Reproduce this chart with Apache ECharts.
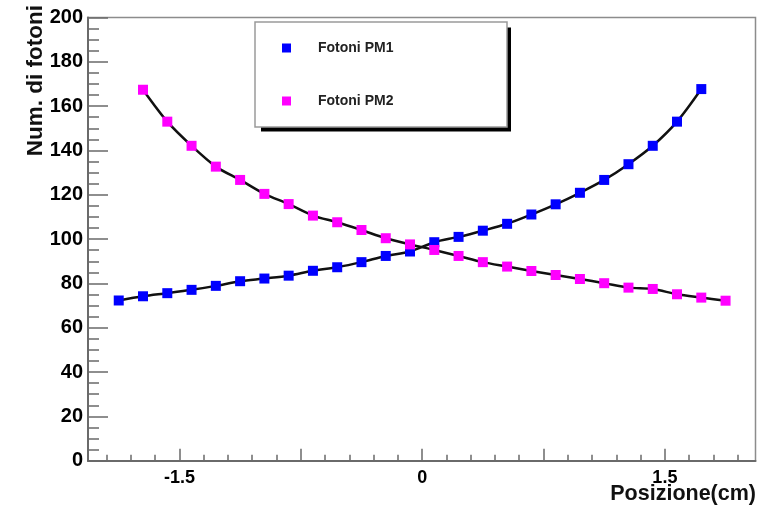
<!DOCTYPE html>
<html>
<head>
<meta charset="utf-8">
<script src="https://cdn.jsdelivr.net/npm/echarts@6/dist/echarts.min.js"></script>
<style>
  html, body { margin: 0; padding: 0; background: #fff; }
  #chart { width: 759px; height: 509px; }
</style>
</head>
<body>
<div id="chart"></div>
<script>
// Positions (cm) and photon counts for the two photomultipliers
const posPM1 = [-1.875, -1.725, -1.575, -1.425, -1.275, -1.125, -0.975, -0.825, -0.675, -0.525,
                -0.375, -0.225, -0.075, 0.075, 0.225, 0.375, 0.525, 0.675, 0.825, 0.975,
                1.125, 1.275, 1.425, 1.575, 1.725];
const fotoniPM1 = [72.3, 74.2, 75.6, 77.1, 78.9, 81.0, 82.2, 83.5, 85.7, 87.3,
                   89.6, 92.4, 94.4, 98.6, 101.0, 103.8, 106.9, 111.1, 115.7, 120.9,
                   126.7, 133.8, 142.1, 153.0, 167.7];

const posPM2 = [-1.725, -1.575, -1.425, -1.275, -1.125, -0.975, -0.825, -0.675, -0.525, -0.375,
                -0.225, -0.075, 0.075, 0.225, 0.375, 0.525, 0.675, 0.825, 0.975, 1.125,
                1.275, 1.425, 1.575, 1.725, 1.875];
const fotoniPM2 = [167.4, 153.0, 142.1, 132.7, 126.7, 120.4, 115.8, 110.6, 107.6, 104.1,
                   100.4, 97.6, 95.1, 92.4, 89.6, 87.6, 85.6, 83.8, 82.0, 80.1,
                   78.1, 77.5, 75.1, 73.6, 72.2];

const seriesNames = ['Fotoni PM1', 'Fotoni PM2'];
const xMajorTicks = [-1.5, -0.75, 0, 0.75, 1.5];
const xTickLabels = [-1.5, 0, 1.5];
const xMinorTicks = [-1.95, -1.8, -1.65, -1.35, -1.2, -1.05, -0.9, -0.6, -0.45, -0.3, -0.15,
                     0.15, 0.3, 0.45, 0.6, 0.9, 1.05, 1.2, 1.35, 1.65, 1.8, 1.95];

const pairs = (xs, ys) => xs.map((x, i) => [x, ys[i]]);
const dataPM1 = pairs(posPM1, fotoniPM1);
const dataPM2 = pairs(posPM2, fotoniPM2);

const FONT = '"Liberation Sans", Arial, Helvetica, sans-serif';
const axisGray = '#6a6a6a';
const xMin = -2.065, xMax = 2.06;

const chart = echarts.init(document.getElementById('chart'), null, { renderer: 'canvas' });

const baseX = {
  type: 'value', min: xMin, max: xMax, position: 'bottom',
  splitLine: { show: false }
};

chart.setOption({
  animation: false,
  backgroundColor: '#fff',
  grid: {
    left: 88, top: 17.5, right: 3.5, bottom: 48.3,
    show: true, borderColor: '#8c8c8c', borderWidth: 1.5, backgroundColor: 'transparent'
  },
  xAxis: [
    Object.assign({}, baseX, {
      axisLine: { show: true, onZero: false, lineStyle: { color: axisGray, width: 2 } },
      axisTick: { show: true, inside: true, length: 12, customValues: xMajorTicks,
                  lineStyle: { color: axisGray, width: 1.5 } },
      axisLabel: { show: true, customValues: xTickLabels, margin: 8,
                   color: '#000', fontFamily: FONT, fontWeight: 'bold', fontSize: 18,
                   formatter: v => String(v) }
    }),
    Object.assign({}, baseX, {
      axisLine: { show: false, onZero: false },
      axisTick: { show: true, inside: true, length: 6, customValues: xMinorTicks,
                  lineStyle: { color: axisGray, width: 1.5 } },
      axisLabel: { show: false }
    })
  ],
  yAxis: {
    type: 'value', min: 0, max: 200, interval: 20,
    axisLine: { show: true, onZero: false, lineStyle: { color: axisGray, width: 2 } },
    axisTick: { show: true, inside: true, length: 20, lineStyle: { color: axisGray, width: 1.5 } },
    minorTick: { show: true, splitNumber: 4, length: 11, lineStyle: { color: axisGray, width: 1.5 } },
    splitLine: { show: false },
    axisLabel: { color: '#000', fontFamily: FONT, fontWeight: 'bold', fontSize: 20, margin: 5 }
  },
  legend: {
    data: seriesNames,
    orient: 'vertical',
    left: 282, top: 41,
    padding: 0,
    itemWidth: 9, itemHeight: 9,
    itemGap: 39,
    icon: 'rect',
    selectedMode: false,
    textStyle: { color: '#222', fontFamily: FONT, fontWeight: 'bold', fontSize: 14,
                 lineHeight: 14, padding: [0, 0, 0, 22] }
  },
  graphic: [
    { type: 'rect', z: 0, shape: { x: 261, y: 27.5, width: 250, height: 104 },
      style: { fill: '#000' } },
    { type: 'rect', z: 1, shape: { x: 255, y: 22, width: 252, height: 105 },
      style: { fill: '#fff', stroke: '#9a9a9a', lineWidth: 1.5 } },
    { type: 'text', x: 36, y: 5, rotation: Math.PI / 2,
      style: { text: 'Num. di fotoni', fill: '#111', font: 'bold 22.5px ' + FONT,
               textAlign: 'right', textVerticalAlign: 'middle' } },
    { type: 'text', x: 756, y: 483,
      style: { text: 'Posizione(cm)', fill: '#111', font: 'bold 21.5px ' + FONT,
               textAlign: 'right', textVerticalAlign: 'top' } }
  ],
  series: [
    { type: 'line', data: dataPM1, smooth: 0.3, showSymbol: false, silent: true,
      lineStyle: { color: '#111', width: 2.5 }, z: 2 },
    { type: 'line', data: dataPM2, smooth: 0.3, showSymbol: false, silent: true,
      lineStyle: { color: '#111', width: 2.5 }, z: 2 },
    { type: 'scatter', name: seriesNames[0], data: dataPM1, symbol: 'rect', symbolSize: 10,
      itemStyle: { color: '#0000ff', opacity: 1 }, z: 3 },
    { type: 'scatter', name: seriesNames[1], data: dataPM2, symbol: 'rect', symbolSize: 10,
      itemStyle: { color: '#ff00ff', opacity: 1 }, z: 3 }
  ]
});
</script>
</body>
</html>
